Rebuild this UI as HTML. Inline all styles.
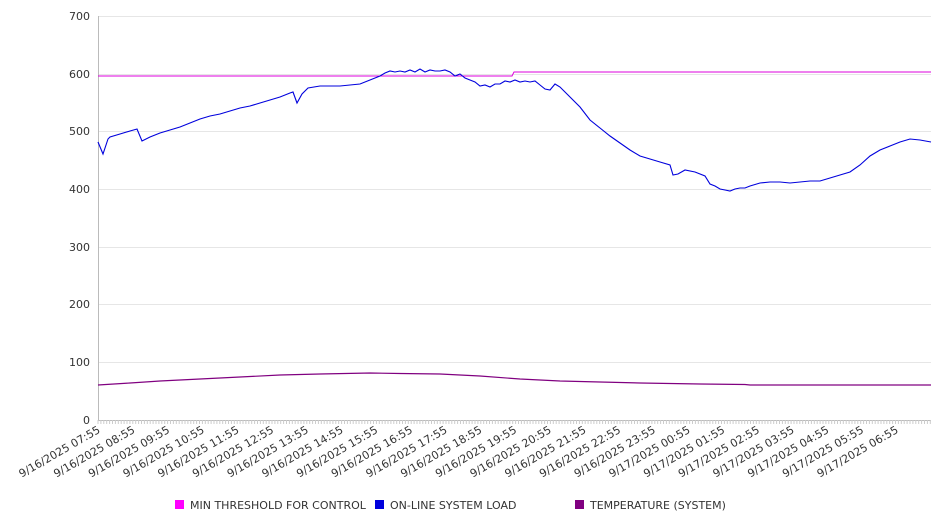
<!DOCTYPE html>
<html><head><style>
body{margin:0;background:#fff;font-family:"DejaVu Sans","Liberation Sans",sans-serif;}
</style></head><body>
<svg width="946" height="526" xmlns="http://www.w3.org/2000/svg" font-family="DejaVu Sans, Liberation Sans, sans-serif">
<g stroke="#e6e6e6" stroke-width="1">
<line x1="98" y1="16.5" x2="931" y2="16.5"/>
<line x1="98" y1="74.5" x2="931" y2="74.5"/>
<line x1="98" y1="131.5" x2="931" y2="131.5"/>
<line x1="98" y1="189.5" x2="931" y2="189.5"/>
<line x1="98" y1="247.5" x2="931" y2="247.5"/>
<line x1="98" y1="304.5" x2="931" y2="304.5"/>
<line x1="98" y1="362.5" x2="931" y2="362.5"/>
</g>
<line x1="98.5" y1="16" x2="98.5" y2="420" stroke="#bbb"/>
<line x1="98" y1="420.5" x2="931" y2="420.5" stroke="#bbb"/>
<g font-size="11" fill="#333" text-anchor="end">
<text x="90" y="20">700</text><text x="90" y="78">600</text><text x="90" y="135">500</text>
<text x="90" y="193">400</text><text x="90" y="251">300</text><text x="90" y="308">200</text>
<text x="90" y="366">100</text><text x="90" y="424">0</text>
</g>
<g id="ticks" stroke="#ccc"></g>
<polyline fill="none" stroke="#dd00dd" stroke-width="1" points="98,76 512,76 514,72 931,72"/>
<polyline fill="none" stroke="#800080" stroke-width="1.2" points="98,385 130,383 160,381 200,379 240,377 280,375 320,374 370,373 400,373.5 440,374 480,376 520,379 560,381 600,382 640,383 700,384 745,384.5 750,385 931,385"/>
<polyline fill="none" stroke="#0000dd" stroke-width="1.1" points="98,142 103,154 108,139 110,137 120,134 130,131 137,129 142,141 150,137 160,133 170,130 180,127 190,123 200,119 210,116 220,114 230,111 240,108 250,106 260,103 270,100 280,97 290,93 293,92 297,103 302,94 308,88 320,86 330,86 340,86 350,85 360,84 370,80 380,76 385,73 390,71 395,72 400,71 405,72 410,70 415,72 420,69 425,72 430,70 435,71 440,71 445,70 450,72 455,76 460,74 465,78 470,80 475,82 480,86 485,85 490,87 495,84 500,84 505,81 510,82 515,80 520,82 525,81 530,82 535,81 540,85 545,89 550,90 555,84 560,87 570,97 580,107 590,120 600,128 610,136 620,143 630,150 640,156 650,159 660,162 670,165 673,175 678,174 685,170 695,172 705,176 710,184 715,186 720,189 725,190 730,191 735,189 740,188 745,188 750,186 760,183 770,182 780,182 790,183 800,182 810,181 820,181 830,178 840,175 850,172 860,165 870,156 880,150 890,146 900,142 910,139 920,140 931,142"/>
<g id="xl" font-size="11" fill="#333" text-anchor="end"></g>
<g font-size="11" fill="#333">
<rect x="175" y="500" width="9" height="9" fill="#ff00ff"/><text x="190" y="509">MIN THRESHOLD FOR CONTROL</text>
<rect x="375" y="500" width="9" height="9" fill="#0000dd"/><text x="390" y="509">ON-LINE SYSTEM LOAD</text>
<rect x="575" y="500" width="9" height="9" fill="#800080"/><text x="590" y="509">TEMPERATURE (SYSTEM)</text>
</g>
<script>
(function(){
var ns="http://www.w3.org/2000/svg";
var t=document.getElementById("ticks");
for(var x=98;x<=931;x+=2.9){var l=document.createElementNS(ns,"line");l.setAttribute("x1",x);l.setAttribute("x2",x);l.setAttribute("y1",420);l.setAttribute("y2",424);t.appendChild(l);}
var g=document.getElementById("xl");
for(var i=0;i<24;i++){var h=(7+i)%24;var d=(7+i)>=24?"9/17/2025 ":"9/16/2025 ";
var s=d+(h<10?"0":"")+h+":55";var x=101+i*34.7;
var tx=document.createElementNS(ns,"text");tx.setAttribute("transform","translate("+x+",432) rotate(-30)");tx.textContent=s;g.appendChild(tx);}
})();
</script>
</svg>
</body></html>
